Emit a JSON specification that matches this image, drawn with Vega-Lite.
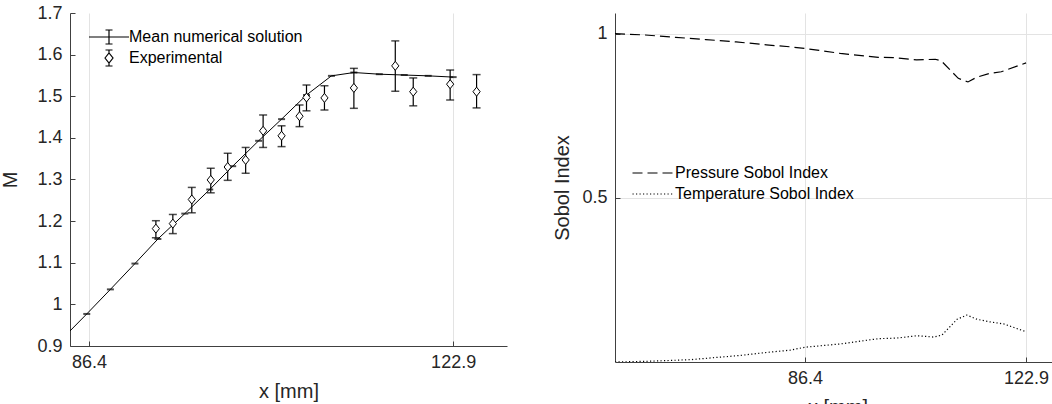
{
  "$schema": "https://vega.github.io/schema/vega-lite/v6.json",
  "padding": {"top": 4, "left": 0, "right": 0, "bottom": 0},
  "background": "white",
  "spacing": 45,
  "config": {
    "view": {"stroke": null},
    "font": "Liberation Sans",
    "axis": {
      "domainColor": "#404040",
      "tickColor": "#404040",
      "labelColor": "#262626",
      "titleColor": "#262626",
      "labelFont": "Liberation Sans",
      "titleFont": "Liberation Sans",
      "labelFontSize": 18,
      "titleFontSize": 20,
      "titleFontWeight": "normal",
      "gridColor": "#e3e3e3",
      "tickSize": -5,
      "domainWidth": 1
    },
    "axisX": {"labelPadding": 12, "titlePadding": 10},
    "axisY": {"labelPadding": 13},
    "legend": {"labelFont": "Liberation Sans", "labelFontSize": 16, "labelColor": "#000000", "labelLimit": 400}
  },
  "datasets": {
    "numerical": [
      {"x": 83.7, "M": 0.917, "series": "Mean numerical solution"},
      {"x": 86.17, "M": 0.977, "series": "Mean numerical solution"},
      {"x": 88.54, "M": 1.036, "series": "Mean numerical solution"},
      {"x": 91.0, "M": 1.098, "series": "Mean numerical solution"},
      {"x": 93.3, "M": 1.157, "series": "Mean numerical solution"},
      {"x": 96.0, "M": 1.218, "series": "Mean numerical solution"},
      {"x": 98.5, "M": 1.276, "series": "Mean numerical solution"},
      {"x": 100.8, "M": 1.332, "series": "Mean numerical solution"},
      {"x": 103.4, "M": 1.393, "series": "Mean numerical solution"},
      {"x": 105.7, "M": 1.445, "series": "Mean numerical solution"},
      {"x": 108.2, "M": 1.503, "series": "Mean numerical solution"},
      {"x": 110.7, "M": 1.549, "series": "Mean numerical solution"},
      {"x": 112.95, "M": 1.557, "series": "Mean numerical solution"},
      {"x": 115.5, "M": 1.553, "series": "Mean numerical solution"},
      {"x": 118.0, "M": 1.551, "series": "Mean numerical solution"},
      {"x": 120.4, "M": 1.549, "series": "Mean numerical solution"},
      {"x": 122.9, "M": 1.546, "series": "Mean numerical solution"}
    ],
    "experimental": [
      {"x": 93.1, "M": 1.182, "lower": 1.160, "upper": 1.201, "series": "Experimental"},
      {"x": 94.8, "M": 1.194, "lower": 1.170, "upper": 1.216, "series": "Experimental"},
      {"x": 96.7, "M": 1.252, "lower": 1.220, "upper": 1.281, "series": "Experimental"},
      {"x": 98.6, "M": 1.299, "lower": 1.268, "upper": 1.327, "series": "Experimental"},
      {"x": 100.3, "M": 1.330, "lower": 1.298, "upper": 1.363, "series": "Experimental"},
      {"x": 102.1, "M": 1.347, "lower": 1.315, "upper": 1.377, "series": "Experimental"},
      {"x": 103.85, "M": 1.417, "lower": 1.377, "upper": 1.455, "series": "Experimental"},
      {"x": 105.7, "M": 1.405, "lower": 1.379, "upper": 1.429, "series": "Experimental"},
      {"x": 107.5, "M": 1.452, "lower": 1.427, "upper": 1.479, "series": "Experimental"},
      {"x": 108.2, "M": 1.497, "lower": 1.465, "upper": 1.527, "series": "Experimental"},
      {"x": 110.0, "M": 1.496, "lower": 1.467, "upper": 1.525, "series": "Experimental"},
      {"x": 112.95, "M": 1.520, "lower": 1.471, "upper": 1.567, "series": "Experimental"},
      {"x": 117.1, "M": 1.573, "lower": 1.512, "upper": 1.633, "series": "Experimental"},
      {"x": 118.9, "M": 1.511, "lower": 1.477, "upper": 1.544, "series": "Experimental"},
      {"x": 122.6, "M": 1.529, "lower": 1.491, "upper": 1.563, "series": "Experimental"},
      {"x": 125.25, "M": 1.511, "lower": 1.472, "upper": 1.552, "series": "Experimental"}
    ],
    "sobol": [
      {"x": 55, "index": 1.0, "series": "Pressure Sobol Index"},
      {"x": 60, "index": 0.996, "series": "Pressure Sobol Index"},
      {"x": 65, "index": 0.989, "series": "Pressure Sobol Index"},
      {"x": 70, "index": 0.982, "series": "Pressure Sobol Index"},
      {"x": 75, "index": 0.975, "series": "Pressure Sobol Index"},
      {"x": 80, "index": 0.966, "series": "Pressure Sobol Index"},
      {"x": 83.9, "index": 0.960, "series": "Pressure Sobol Index"},
      {"x": 86.4, "index": 0.955, "series": "Pressure Sobol Index"},
      {"x": 92.2, "index": 0.940, "series": "Pressure Sobol Index"},
      {"x": 98.5, "index": 0.928, "series": "Pressure Sobol Index"},
      {"x": 101.0, "index": 0.927, "series": "Pressure Sobol Index"},
      {"x": 104.8, "index": 0.920, "series": "Pressure Sobol Index"},
      {"x": 107.9, "index": 0.922, "series": "Pressure Sobol Index"},
      {"x": 108.9, "index": 0.917, "series": "Pressure Sobol Index"},
      {"x": 111.7, "index": 0.864, "series": "Pressure Sobol Index"},
      {"x": 113.3, "index": 0.853, "series": "Pressure Sobol Index"},
      {"x": 114.7, "index": 0.867, "series": "Pressure Sobol Index"},
      {"x": 116.9, "index": 0.879, "series": "Pressure Sobol Index"},
      {"x": 118.8, "index": 0.884, "series": "Pressure Sobol Index"},
      {"x": 122.9, "index": 0.911, "series": "Pressure Sobol Index"},
      {"x": 55, "index": 0.0, "series": "Temperature Sobol Index"},
      {"x": 60, "index": 0.002, "series": "Temperature Sobol Index"},
      {"x": 67.4, "index": 0.007, "series": "Temperature Sobol Index"},
      {"x": 75.7, "index": 0.020, "series": "Temperature Sobol Index"},
      {"x": 80, "index": 0.029, "series": "Temperature Sobol Index"},
      {"x": 83.9, "index": 0.036, "series": "Temperature Sobol Index"},
      {"x": 86.4, "index": 0.045, "series": "Temperature Sobol Index"},
      {"x": 92.2, "index": 0.055, "series": "Temperature Sobol Index"},
      {"x": 98.5, "index": 0.071, "series": "Temperature Sobol Index"},
      {"x": 101.6, "index": 0.073, "series": "Temperature Sobol Index"},
      {"x": 104.9, "index": 0.080, "series": "Temperature Sobol Index"},
      {"x": 107.6, "index": 0.076, "series": "Temperature Sobol Index"},
      {"x": 109.0, "index": 0.082, "series": "Temperature Sobol Index"},
      {"x": 111.5, "index": 0.130, "series": "Temperature Sobol Index"},
      {"x": 113.1, "index": 0.143, "series": "Temperature Sobol Index"},
      {"x": 114.8, "index": 0.130, "series": "Temperature Sobol Index"},
      {"x": 117.0, "index": 0.122, "series": "Temperature Sobol Index"},
      {"x": 119.2, "index": 0.116, "series": "Temperature Sobol Index"},
      {"x": 122.9, "index": 0.092, "series": "Temperature Sobol Index"}
    ]
  },
  "hconcat": [
    {
      "width": 437,
      "height": 333,
      "encoding": {
        "x": {"field": "x", "type": "quantitative", "title": "x [mm]",
          "scale": {"domain": [84.49, 128.3], "nice": false, "zero": false},
          "axis": {"values": [86.4, 122.9], "format": ".1f", "grid": true}}
      },
      "layer": [
        {
          "data": {"name": "numerical"},
          "mark": {"type": "line", "color": "#000000", "strokeWidth": 1, "clip": true},
          "encoding": {
            "y": {"field": "M", "type": "quantitative", "title": "M",
              "scale": {"domain": [0.9, 1.7], "nice": false, "zero": false},
              "axis": {"values": [0.9, 1.0, 1.1, 1.2, 1.3, 1.4, 1.5, 1.6, 1.7], "format": "~g", "grid": false, "titlePadding": 16}}
          }
        },
        {
          "data": {"name": "numerical"},
          "mark": {"type": "tick", "orient": "horizontal", "color": "#000000", "size": 7, "thickness": 2, "clip": true},
          "encoding": {"y": {"field": "M", "type": "quantitative", "title": "M"}}
        },
        {
          "data": {"name": "experimental"},
          "mark": {"type": "rule", "color": "#000000", "strokeWidth": 1.2},
          "encoding": {
            "y": {"field": "lower", "type": "quantitative", "title": "M"},
            "y2": {"field": "upper"}
          }
        },
        {
          "data": {"name": "experimental"},
          "mark": {"type": "tick", "orient": "horizontal", "color": "#000000", "size": 8, "thickness": 1.5},
          "encoding": {"y": {"field": "upper", "type": "quantitative", "title": "M"}}
        },
        {
          "data": {"name": "experimental"},
          "mark": {"type": "tick", "orient": "horizontal", "color": "#000000", "size": 8, "thickness": 1.5},
          "encoding": {"y": {"field": "lower", "type": "quantitative", "title": "M"}}
        },
        {
          "data": {"name": "experimental"},
          "mark": {"type": "point", "shape": "M-0.8,0L0,-1L0.8,0L0,1Z", "size": 81, "filled": true, "fill": "#ffffff", "stroke": "#000000", "strokeWidth": 1, "opacity": 1},
          "encoding": {"y": {"field": "M", "type": "quantitative", "title": "M"}}
        },
        {
          "data": {"name": "numerical"},
          "mark": {"type": "point", "size": 100, "opacity": 0, "clip": true},
          "encoding": {
            "y": {"field": "M", "type": "quantitative", "title": "M"},
            "shape": {"field": "series", "type": "nominal",
              "scale": {"domain": ["Mean numerical solution", "Experimental"],
                "range": ["M-4,0H4M0,-1.4V1.4M-0.7,-1.4H0.7M-0.7,1.4H0.7", "M0,-1.6V-1M-0.7,-1.6H0.7M0,1.6V1M-0.7,1.6H0.7M-0.8,0L0,-1L0.8,0L0,1Z"]},
              "legend": {"title": null, "orient": "none", "legendX": 31, "legendY": 16, "symbolSize": 100,
                "symbolStrokeColor": "#000000", "symbolFillColor": "#ffffff", "symbolStrokeWidth": 1.2,
                "symbolOpacity": 1, "labelOffset": 12, "rowPadding": 0, "padding": 0}}
          }
        },
        {
          "data": {"name": "experimental"},
          "mark": {"type": "point", "size": 100, "opacity": 0},
          "encoding": {
            "y": {"field": "M", "type": "quantitative", "title": "M"},
            "shape": {"field": "series", "type": "nominal"}
          }
        }
      ]
    },
    {
      "width": 445,
      "height": 349,
      "data": {"name": "sobol"},
      "mark": {"type": "line", "color": "#000000", "strokeWidth": 1.2, "clip": true},
      "encoding": {
        "x": {"field": "x", "type": "quantitative", "title": "x [mm]",
          "scale": {"domain": [55, 128.5], "nice": false, "zero": false},
          "axis": {"values": [86.4, 122.9], "format": ".1f", "grid": true}},
        "y": {"field": "index", "type": "quantitative", "title": "Sobol Index",
          "scale": {"domain": [0, 1.063], "nice": false, "zero": false},
          "axis": {"values": [0.5, 1], "format": "~g", "grid": true, "titlePadding": 9}},
        "strokeDash": {"field": "series", "type": "nominal",
          "scale": {"domain": ["Pressure Sobol Index", "Temperature Sobol Index"], "range": [[10, 5], [1.2, 2.3]]},
          "legend": {"title": null, "orient": "none", "legendX": 575, "legendY": 152, "symbolType": "M-4.1,0H4.1", "symbolSize": 100,
            "symbolStrokeColor": "#000000", "symbolStrokeWidth": 1.2, "labelOffset": 14, "rowPadding": 5, "padding": 0}}
      }
    }
  ]
}
